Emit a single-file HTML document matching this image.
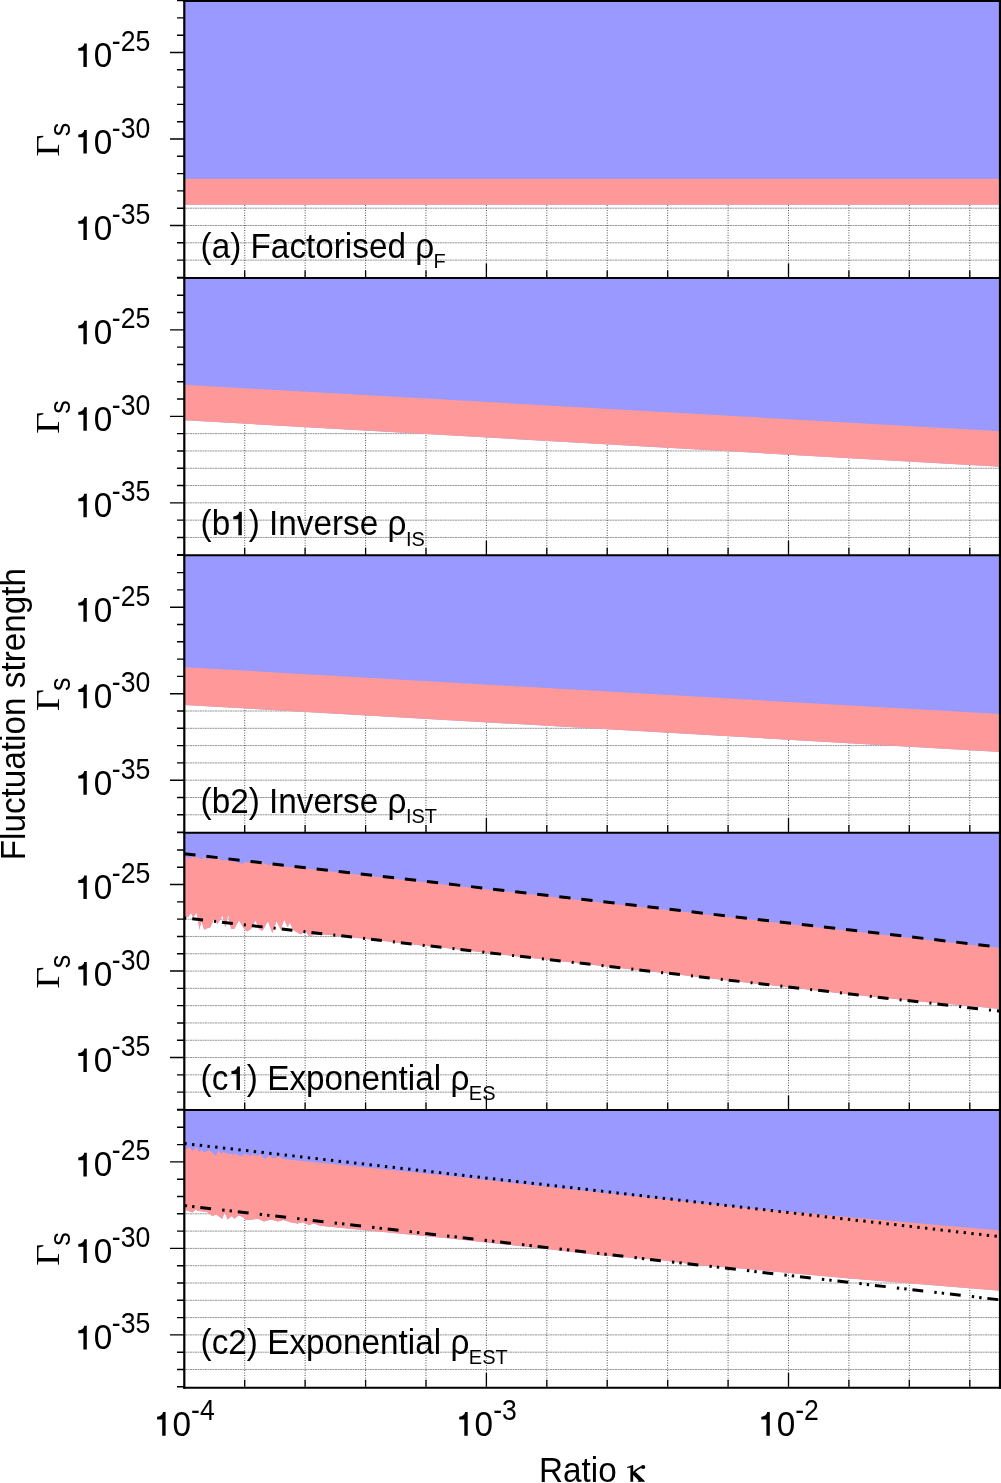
<!DOCTYPE html>
<html><head><meta charset="utf-8"><style>html,body{margin:0;padding:0;background:#fff;overflow:hidden}svg{display:block;will-change:transform}</style></head><body>
<svg width="1001" height="1483" viewBox="0 0 1001 1483" font-family="'Liberation Sans', sans-serif">
<rect width="1001" height="1483" fill="#fff"/>
<path d="M185.5 17.9H999M185.5 35.2H999M185.5 52.5H999M185.5 69.8H999M185.5 87.1H999M185.5 104.4H999M185.5 121.7H999M185.5 139.0H999M185.5 156.3H999M185.5 173.6H999M185.5 190.9H999M185.5 208.2H999M185.5 225.5H999M185.5 242.8H999M185.5 260.1H999M185.5 295.25H999M185.5 312.55H999M185.5 329.85H999M185.5 347.15H999M185.5 364.45H999M185.5 381.75H999M185.5 399.05H999M185.5 416.35H999M185.5 433.65H999M185.5 450.95H999M185.5 468.25H999M185.5 485.55H999M185.5 502.85H999M185.5 520.15H999M185.5 537.45H999M185.5 572.6H999M185.5 589.9H999M185.5 607.2H999M185.5 624.5H999M185.5 641.8H999M185.5 659.1H999M185.5 676.4H999M185.5 693.7H999M185.5 711.0H999M185.5 728.3H999M185.5 745.6H999M185.5 762.9H999M185.5 780.2H999M185.5 797.5H999M185.5 814.8H999M185.5 849.95H999M185.5 867.25H999M185.5 884.55H999M185.5 901.85H999M185.5 919.15H999M185.5 936.45H999M185.5 953.75H999M185.5 971.05H999M185.5 988.35H999M185.5 1005.65H999M185.5 1022.95H999M185.5 1040.25H999M185.5 1057.55H999M185.5 1074.85H999M185.5 1092.15H999M185.5 1127.3H999M185.5 1144.6H999M185.5 1161.9H999M185.5 1179.2H999M185.5 1196.5H999M185.5 1213.8H999M185.5 1231.1H999M185.5 1248.4H999M185.5 1265.7H999M185.5 1283.0H999M185.5 1300.3H999M185.5 1317.6H999M185.5 1334.9H999M185.5 1352.2H999M185.5 1369.5H999" stroke="#333" stroke-width="1" stroke-dasharray="1 4" fill="none"/>
<path d="M185.5 17.9H999M185.5 35.2H999M185.5 52.5H999M185.5 69.8H999M185.5 87.1H999M185.5 104.4H999M185.5 121.7H999M185.5 139.0H999M185.5 156.3H999M185.5 173.6H999M185.5 190.9H999M185.5 208.2H999M185.5 225.5H999M185.5 242.8H999M185.5 260.1H999M185.5 295.25H999M185.5 312.55H999M185.5 329.85H999M185.5 347.15H999M185.5 364.45H999M185.5 381.75H999M185.5 399.05H999M185.5 416.35H999M185.5 433.65H999M185.5 450.95H999M185.5 468.25H999M185.5 485.55H999M185.5 502.85H999M185.5 520.15H999M185.5 537.45H999M185.5 572.6H999M185.5 589.9H999M185.5 607.2H999M185.5 624.5H999M185.5 641.8H999M185.5 659.1H999M185.5 676.4H999M185.5 693.7H999M185.5 711.0H999M185.5 728.3H999M185.5 745.6H999M185.5 762.9H999M185.5 780.2H999M185.5 797.5H999M185.5 814.8H999M185.5 849.95H999M185.5 867.25H999M185.5 884.55H999M185.5 901.85H999M185.5 919.15H999M185.5 936.45H999M185.5 953.75H999M185.5 971.05H999M185.5 988.35H999M185.5 1005.65H999M185.5 1022.95H999M185.5 1040.25H999M185.5 1057.55H999M185.5 1074.85H999M185.5 1092.15H999M185.5 1127.3H999M185.5 1144.6H999M185.5 1161.9H999M185.5 1179.2H999M185.5 1196.5H999M185.5 1213.8H999M185.5 1231.1H999M185.5 1248.4H999M185.5 1265.7H999M185.5 1283.0H999M185.5 1300.3H999M185.5 1317.6H999M185.5 1334.9H999M185.5 1352.2H999M185.5 1369.5H999" stroke="#999" stroke-width="1" stroke-dasharray="2 3" stroke-dashoffset="-2" fill="none"/>
<path d="M244.72 0V1387.3M305.14 0V1387.3M365.56 0V1387.3M425.98 0V1387.3M486.4 0V1387.3M546.82 0V1387.3M607.24 0V1387.3M667.66 0V1387.3M728.08 0V1387.3M788.5 0V1387.3M848.92 0V1387.3M909.34 0V1387.3M969.76 0V1387.3" stroke="#555" stroke-width="1" stroke-dasharray="1 1.5" fill="none"/>
<path d="M244.7 277.4v-7M305.1 277.4v-7M365.6 277.4v-7M426.0 277.4v-7M486.4 277.4v-14M546.8 277.4v-7M607.2 277.4v-7M667.7 277.4v-7M728.1 277.4v-7M788.5 277.4v-14M848.9 277.4v-7M909.3 277.4v-7M969.8 277.4v-7M244.7 554.8v-7M305.1 554.8v-7M365.6 554.8v-7M426.0 554.8v-7M486.4 554.8v-14M546.8 554.8v-7M607.2 554.8v-7M667.7 554.8v-7M728.1 554.8v-7M788.5 554.8v-14M848.9 554.8v-7M909.3 554.8v-7M969.8 554.8v-7M244.7 832.1v-7M305.1 832.1v-7M365.6 832.1v-7M426.0 832.1v-7M486.4 832.1v-14M546.8 832.1v-7M607.2 832.1v-7M667.7 832.1v-7M728.1 832.1v-7M788.5 832.1v-14M848.9 832.1v-7M909.3 832.1v-7M969.8 832.1v-7M244.7 1109.5v-7M305.1 1109.5v-7M365.6 1109.5v-7M426.0 1109.5v-7M486.4 1109.5v-14M546.8 1109.5v-7M607.2 1109.5v-7M667.7 1109.5v-7M728.1 1109.5v-7M788.5 1109.5v-14M848.9 1109.5v-7M909.3 1109.5v-7M969.8 1109.5v-7M244.7 1386.8v-7M305.1 1386.8v-7M365.6 1386.8v-7M426.0 1386.8v-7M486.4 1386.8v-14M546.8 1386.8v-7M607.2 1386.8v-7M667.7 1386.8v-7M728.1 1386.8v-7M788.5 1386.8v-14M848.9 1386.8v-7M909.3 1386.8v-7M969.8 1386.8v-7" stroke="#000" stroke-width="1.3" fill="none"/>
<path d="M184 0.60h-7M184 17.90h-7M184 35.20h-7M184 52.50h-14M184 69.80h-7M184 87.10h-7M184 104.40h-7M184 121.70h-7M184 139.00h-14M184 156.30h-7M184 173.60h-7M184 190.90h-7M184 208.20h-7M184 225.50h-14M184 242.80h-7M184 260.10h-7M184 277.40h-7M184 277.95h-7M184 295.25h-7M184 312.55h-7M184 329.85h-14M184 347.15h-7M184 364.45h-7M184 381.75h-7M184 399.05h-7M184 416.35h-14M184 433.65h-7M184 450.95h-7M184 468.25h-7M184 485.55h-7M184 502.85h-14M184 520.15h-7M184 537.45h-7M184 554.75h-7M184 555.30h-7M184 572.60h-7M184 589.90h-7M184 607.20h-14M184 624.50h-7M184 641.80h-7M184 659.10h-7M184 676.40h-7M184 693.70h-14M184 711.00h-7M184 728.30h-7M184 745.60h-7M184 762.90h-7M184 780.20h-14M184 797.50h-7M184 814.80h-7M184 832.10h-7M184 832.65h-7M184 849.95h-7M184 867.25h-7M184 884.55h-14M184 901.85h-7M184 919.15h-7M184 936.45h-7M184 953.75h-7M184 971.05h-14M184 988.35h-7M184 1005.65h-7M184 1022.95h-7M184 1040.25h-7M184 1057.55h-14M184 1074.85h-7M184 1092.15h-7M184 1109.45h-7M184 1110.00h-7M184 1127.30h-7M184 1144.60h-7M184 1161.90h-14M184 1179.20h-7M184 1196.50h-7M184 1213.80h-7M184 1231.10h-7M184 1248.40h-14M184 1265.70h-7M184 1283.00h-7M184 1300.30h-7M184 1317.60h-7M184 1334.90h-14M184 1352.20h-7M184 1369.50h-7M184 1386.80h-7" stroke="#000" stroke-width="1.4" fill="none"/>
<rect x="184.3" y="0.6" width="816.2" height="204.1" fill="#9999ff"/>
<rect x="184.3" y="178.8" width="816.2" height="25.9" fill="#ff9999"/>
<path d="M184.3 278.0 L1000.5 278.0 L1000.5 466.8 L184.3 420.2Z" fill="#9999ff"/>
<path d="M184.3 384.8 L1000.5 431.2 L1000.5 466.8 L184.3 420.2Z" fill="#ff9999"/>
<path d="M184.3 555.3 L1000.5 555.3 L1000.5 751.9 L184.3 705.0Z" fill="#9999ff"/>
<path d="M184.3 667.2 L1000.5 714.1 L1000.5 751.9 L184.3 705.0Z" fill="#ff9999"/>
<path d="M184.3 832.7 L1000.5 832.7 L1000.5 1008.9 L990.0 1007.9 L960.0 1005.1 L930.0 1002.4 L900.0 999.6 L870.0 996.6 L840.0 993.2 L810.0 989.7 L780.0 986.3 L750.0 982.9 L720.0 979.5 L690.0 976.0 L660.0 972.6 L630.0 969.2 L600.0 965.7 L570.0 962.3 L540.0 958.9 L510.0 955.4 L480.0 952.0 L450.0 948.6 L420.0 945.2 L390.0 941.7 L360.0 938.3 L330.0 934.9 L319.9 934.3 L308.7 935.7 L305.9 931.5 L300.3 934.3 L293.3 930.0 L289.8 922.4 L287.7 927.3 L284.2 919.6 L280.7 929.4 L276.5 921.0 L272.3 932.9 L268.0 921.0 L262.5 930.8 L259.0 929.0 L255.5 920.3 L251.0 929.0 L247.0 931.4 L243.8 928.2 L239.0 920.2 L234.2 929.0 L231.0 929.0 L228.2 914.2 L225.4 927.4 L222.6 915.4 L217.4 924.2 L214.2 918.6 L210.2 927.4 L207.0 928.2 L204.2 929.8 L201.4 921.0 L199.4 929.8 L197.8 918.0 L196.2 912.2 L193.4 917.8 L191.0 913.0 L188.2 917.0 L185.4 916.2 L184.3 916.2Z" fill="#9999ff"/>
<path d="M184.3 856.0 L185.0 856.0 L189.5 858.5 L193.0 856.5 L197.0 857.0 L201.5 859.5 L204.0 856.5 L206.5 859.5 L213.0 858.5 L219.0 858.5 L221.0 860.5 L225.0 860.0 L228.0 860.5 L231.0 861.5 L235.0 861.5 L242.0 864.0 L245.0 862.0 L251.0 862.5 L259.0 863.5 L263.0 863.0 L266.0 864.0 L269.0 865.5 L271.0 864.0 L278.0 865.0 L283.0 866.5 L300.0 868.1 L350.0 873.8 L400.0 879.5 L450.0 885.2 L500.0 890.9 L550.0 896.7 L600.0 902.4 L650.0 908.1 L700.0 913.8 L750.0 919.5 L800.0 925.3 L850.0 931.0 L900.0 936.7 L950.0 942.4 L1000.0 948.1 L1000.5 948.0 L1000.5 1008.9 L990.0 1007.9 L960.0 1005.1 L930.0 1002.4 L900.0 999.6 L870.0 996.6 L840.0 993.2 L810.0 989.7 L780.0 986.3 L750.0 982.9 L720.0 979.5 L690.0 976.0 L660.0 972.6 L630.0 969.2 L600.0 965.7 L570.0 962.3 L540.0 958.9 L510.0 955.4 L480.0 952.0 L450.0 948.6 L420.0 945.2 L390.0 941.7 L360.0 938.3 L330.0 934.9 L319.9 934.3 L308.7 935.7 L305.9 931.5 L300.3 934.3 L293.3 930.0 L289.8 922.4 L287.7 927.3 L284.2 919.6 L280.7 929.4 L276.5 921.0 L272.3 932.9 L268.0 921.0 L262.5 930.8 L259.0 929.0 L255.5 920.3 L251.0 929.0 L247.0 931.4 L243.8 928.2 L239.0 920.2 L234.2 929.0 L231.0 929.0 L228.2 914.2 L225.4 927.4 L222.6 915.4 L217.4 924.2 L214.2 918.6 L210.2 927.4 L207.0 928.2 L204.2 929.8 L201.4 921.0 L199.4 929.8 L197.8 918.0 L196.2 912.2 L193.4 917.8 L191.0 913.0 L188.2 917.0 L185.4 916.2 L184.3 916.2Z" fill="#ff9999"/>
<path d="M184.3 1110.0 L1000.5 1110.0 L1000.5 1290.8 L850.0 1278.4 L750.0 1269.3 L700.0 1265.2 L660.0 1260.0 L600.0 1255.2 L560.0 1250.5 L450.0 1238.4 L319.9 1225.7 L314.3 1223.6 L308.7 1225.0 L303.1 1222.2 L297.5 1223.6 L290.5 1222.2 L283.5 1220.0 L277.9 1221.5 L270.9 1219.4 L263.9 1221.5 L258.3 1218.7 L252.7 1219.4 L245.7 1220.0 L242.9 1217.3 L238.7 1215.2 L234.5 1218.7 L231.7 1215.9 L227.6 1219.4 L224.8 1212.4 L222.0 1218.7 L216.4 1214.5 L212.2 1215.9 L206.6 1211.7 L198.2 1211.0 L195.4 1209.6 L192.6 1212.4 L188.4 1211.0 L185.6 1210.3 L184.3 1210.3Z" fill="#9999ff"/>
<path d="M184.3 1150.0 L185.0 1150.0 L189.5 1147.0 L192.5 1151.0 L196.5 1147.0 L199.0 1152.0 L201.5 1150.0 L204.5 1152.5 L209.0 1150.0 L213.0 1153.0 L216.0 1156.0 L218.5 1150.0 L220.5 1153.5 L223.5 1152.0 L227.0 1153.5 L233.0 1154.5 L236.0 1154.0 L240.5 1156.5 L245.0 1154.0 L250.0 1156.0 L253.0 1154.5 L257.0 1156.0 L260.0 1154.5 L265.0 1159.0 L269.0 1155.5 L273.0 1158.2 L279.0 1156.5 L283.0 1159.0 L450.0 1176.0 L600.0 1192.5 L750.0 1208.4 L850.0 1217.3 L1000.5 1230.6 L1000.5 1290.8 L850.0 1278.4 L750.0 1269.3 L700.0 1265.2 L660.0 1260.0 L600.0 1255.2 L560.0 1250.5 L450.0 1238.4 L319.9 1225.7 L314.3 1223.6 L308.7 1225.0 L303.1 1222.2 L297.5 1223.6 L290.5 1222.2 L283.5 1220.0 L277.9 1221.5 L270.9 1219.4 L263.9 1221.5 L258.3 1218.7 L252.7 1219.4 L245.7 1220.0 L242.9 1217.3 L238.7 1215.2 L234.5 1218.7 L231.7 1215.9 L227.6 1219.4 L224.8 1212.4 L222.0 1218.7 L216.4 1214.5 L212.2 1215.9 L206.6 1211.7 L198.2 1211.0 L195.4 1209.6 L192.6 1212.4 L188.4 1211.0 L185.6 1210.3 L184.3 1210.3Z" fill="#ff9999"/>
<path d="M184.3 853.82L1000.5 947.19" stroke="#000" stroke-width="3" stroke-dasharray="11.3 10.9" fill="none"/>
<path d="M184.3 917.92L1000.5 1011.21" stroke="#000" stroke-width="3" stroke-dasharray="10.9 11.1 2 6" stroke-dashoffset="22.05" fill="none"/>
<path d="M184.3 1143.52L1000.5 1236.73" stroke="#000" stroke-width="3" stroke-dasharray="2.4 5.366" fill="none"/>
<path d="M184.3 1205.55L1000.5 1299.90" stroke="#000" stroke-width="3" stroke-dasharray="10.87 11.17 2.4 5.05 2.4 5.84" stroke-dashoffset="21.63" fill="none"/>
<path d="M183.2 0.90H1001M183.2 277.95H1001M183.2 555.35H1001M183.2 832.70H1001M183.2 1110.05H1001M183.2 1387.75H1001" stroke="#000" stroke-width="2" fill="none"/>
<path d="M184.3 0V1388.8M1000 0V1388.8" stroke="#000" stroke-width="2.2" fill="none"/>
<defs><path id="one" d="M11.6 0V-22.8H9.0C8.6 -20.0 6.5 -18.5 3.1 -18.3V-15.6H8.2V0Z"/></defs>
<g transform="translate(75.20 67.00) scale(1 1.035)"><use href="#one"/><text x="18.51" font-size="33.3">0</text></g>
<text transform="translate(111.80 51.00) scale(1.0 1.08)" font-size="26.6">-25</text>
<g transform="translate(75.20 153.50) scale(1 1.035)"><use href="#one"/><text x="18.51" font-size="33.3">0</text></g>
<text transform="translate(111.80 137.50) scale(1.0 1.08)" font-size="26.6">-30</text>
<g transform="translate(75.20 240.00) scale(1 1.035)"><use href="#one"/><text x="18.51" font-size="33.3">0</text></g>
<text transform="translate(111.80 224.00) scale(1.0 1.08)" font-size="26.6">-35</text>
<text transform="translate(58.80 156.40) rotate(-90) scale(1.098 1.0)" font-size="34.5" font-family="'Liberation Serif', serif">Γ</text>
<text transform="translate(70.00 136.30) rotate(-90) scale(0.924 1.0)" font-size="29.3">s</text>
<g transform="translate(75.20 344.35) scale(1 1.035)"><use href="#one"/><text x="18.51" font-size="33.3">0</text></g>
<text transform="translate(111.80 328.35) scale(1.0 1.08)" font-size="26.6">-25</text>
<g transform="translate(75.20 430.85) scale(1 1.035)"><use href="#one"/><text x="18.51" font-size="33.3">0</text></g>
<text transform="translate(111.80 414.85) scale(1.0 1.08)" font-size="26.6">-30</text>
<g transform="translate(75.20 517.35) scale(1 1.035)"><use href="#one"/><text x="18.51" font-size="33.3">0</text></g>
<text transform="translate(111.80 501.35) scale(1.0 1.08)" font-size="26.6">-35</text>
<text transform="translate(58.80 433.75) rotate(-90) scale(1.098 1.0)" font-size="34.5" font-family="'Liberation Serif', serif">Γ</text>
<text transform="translate(70.00 413.65) rotate(-90) scale(0.924 1.0)" font-size="29.3">s</text>
<g transform="translate(75.20 621.70) scale(1 1.035)"><use href="#one"/><text x="18.51" font-size="33.3">0</text></g>
<text transform="translate(111.80 605.70) scale(1.0 1.08)" font-size="26.6">-25</text>
<g transform="translate(75.20 708.20) scale(1 1.035)"><use href="#one"/><text x="18.51" font-size="33.3">0</text></g>
<text transform="translate(111.80 692.20) scale(1.0 1.08)" font-size="26.6">-30</text>
<g transform="translate(75.20 794.70) scale(1 1.035)"><use href="#one"/><text x="18.51" font-size="33.3">0</text></g>
<text transform="translate(111.80 778.70) scale(1.0 1.08)" font-size="26.6">-35</text>
<text transform="translate(58.80 711.10) rotate(-90) scale(1.098 1.0)" font-size="34.5" font-family="'Liberation Serif', serif">Γ</text>
<text transform="translate(70.00 691.00) rotate(-90) scale(0.924 1.0)" font-size="29.3">s</text>
<g transform="translate(75.20 899.05) scale(1 1.035)"><use href="#one"/><text x="18.51" font-size="33.3">0</text></g>
<text transform="translate(111.80 883.05) scale(1.0 1.08)" font-size="26.6">-25</text>
<g transform="translate(75.20 985.55) scale(1 1.035)"><use href="#one"/><text x="18.51" font-size="33.3">0</text></g>
<text transform="translate(111.80 969.55) scale(1.0 1.08)" font-size="26.6">-30</text>
<g transform="translate(75.20 1072.05) scale(1 1.035)"><use href="#one"/><text x="18.51" font-size="33.3">0</text></g>
<text transform="translate(111.80 1056.05) scale(1.0 1.08)" font-size="26.6">-35</text>
<text transform="translate(58.80 988.45) rotate(-90) scale(1.098 1.0)" font-size="34.5" font-family="'Liberation Serif', serif">Γ</text>
<text transform="translate(70.00 968.35) rotate(-90) scale(0.924 1.0)" font-size="29.3">s</text>
<g transform="translate(75.20 1176.40) scale(1 1.035)"><use href="#one"/><text x="18.51" font-size="33.3">0</text></g>
<text transform="translate(111.80 1160.40) scale(1.0 1.08)" font-size="26.6">-25</text>
<g transform="translate(75.20 1262.90) scale(1 1.035)"><use href="#one"/><text x="18.51" font-size="33.3">0</text></g>
<text transform="translate(111.80 1246.90) scale(1.0 1.08)" font-size="26.6">-30</text>
<g transform="translate(75.20 1349.40) scale(1 1.035)"><use href="#one"/><text x="18.51" font-size="33.3">0</text></g>
<text transform="translate(111.80 1333.40) scale(1.0 1.08)" font-size="26.6">-35</text>
<text transform="translate(58.80 1265.80) rotate(-90) scale(1.098 1.0)" font-size="34.5" font-family="'Liberation Serif', serif">Γ</text>
<text transform="translate(70.00 1245.70) rotate(-90) scale(0.924 1.0)" font-size="29.3">s</text>
<text transform="translate(200.60 257.95) scale(1.0 1.035)" font-size="33.3">(a) Factorised ρ<tspan dx="-0.5" dy="10" font-size="20">F</tspan></text>
<g transform="translate(200.6 535.35) scale(1 1.035)"><text font-size="33.3">(b</text><use href="#one" x="29.60"/><text x="48.12" font-size="33.3">) Inverse ρ<tspan dx="-0.5" dy="10" font-size="20">IS</tspan></text></g>
<text transform="translate(200.60 812.70) scale(1.0 1.035)" font-size="33.3">(b2) Inverse ρ<tspan dx="-0.5" dy="10" font-size="20">IST</tspan></text>
<g transform="translate(200.6 1090.05) scale(1 1.035)"><text font-size="33.3">(c</text><use href="#one" x="27.74"/><text x="46.25" font-size="33.3">) Exponential ρ<tspan dx="-0.5" dy="10" font-size="20">ES</tspan></text></g>
<text transform="translate(200.60 1354.00) scale(1.0 1.035)" font-size="33.3">(c2) Exponential ρ<tspan dx="-0.5" dy="10" font-size="20">EST</tspan></text>
<g transform="translate(154.00 1435.70) scale(1 1.035)"><use href="#one"/><text x="18.51" font-size="33.3">0</text></g>
<text transform="translate(191.03 1420.10) scale(1.0 1.08)" font-size="26.6">-4</text>
<g transform="translate(456.10 1435.70) scale(1 1.035)"><use href="#one"/><text x="18.51" font-size="33.3">0</text></g>
<text transform="translate(493.13 1420.10) scale(1.0 1.08)" font-size="26.6">-3</text>
<g transform="translate(758.20 1435.70) scale(1 1.035)"><use href="#one"/><text x="18.51" font-size="33.3">0</text></g>
<text transform="translate(795.23 1420.10) scale(1.0 1.08)" font-size="26.6">-2</text>
<text transform="translate(539.00 1482.00) scale(1.0 1.035)" font-size="33.3">Ratio</text>
<path d="M627.1 1467.0L632.6 1465.1L633.2 1465.3V1481.7H630.4V1467.6L627.1 1468.0Z M633.2 1471.8L636.2 1472.6L644.0 1480.2L645.2 1481.7H637.5L638.6 1480.6L633.2 1475.0Z"/>
<path d="M633.2 1472.8Q637.5 1468.6 641.2 1467.0" stroke="#000" stroke-width="1.7" fill="none"/><ellipse cx="643.1" cy="1467.1" rx="2.2" ry="2.0"/>
<text transform="translate(24.60 860.30) rotate(-90) scale(1.0 1.035)" font-size="33.3">Fluctuation strength</text>
</svg>
</body></html>
